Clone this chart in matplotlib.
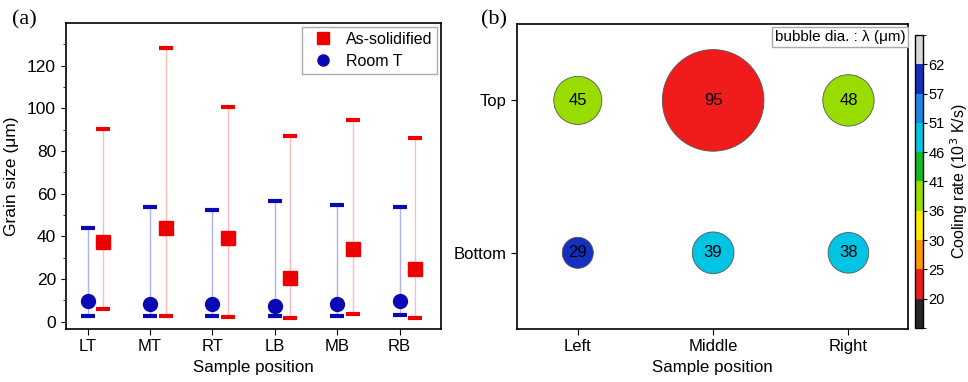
import matplotlib
matplotlib.use("Agg")
import matplotlib.pyplot as plt
from matplotlib.colors import ListedColormap, BoundaryNorm
from matplotlib.lines import Line2D
import numpy as np

plt.rcParams["font.family"] = ["Liberation Sans", "DejaVu Sans"]
plt.rcParams["font.size"] = 12

# ---- (a) grain size data ----
positions = ["LT", "MT", "RT", "LB", "MB", "RB"]
room_mean = [9.5, 8, 8, 7.5, 8, 9.5]
room_min = [2.5, 2.5, 2.5, 2.5, 2.5, 3]
room_max = [44, 53.5, 52.5, 56.5, 54.5, 53.5]
solid_mean = [37.5, 44, 39, 20.5, 34, 24.5]
solid_min = [6, 2.5, 2, 1.5, 3.5, 1.5]
solid_max = [90.5, 128.5, 100.5, 87, 94.5, 86]

# ---- (b) bubble data ----
cols = ["Left", "Middle", "Right"]
rows = ["Bottom", "Top"]
lam_top = [45, 95, 48]
lam_bottom = [29, 39, 38]
cool_top = [38, 22, 38]
cool_bottom = [60, 48, 48]
cb_bounds = [15, 20, 25, 30, 36, 41, 46, 51, 57, 62, 67]
cb_colors = ["#262626", "#f01c1c", "#ff9900", "#ffee00", "#99dd00",
             "#11bb22", "#00c4e4", "#1a88e8", "#1530c0", "#d8d8d8"]

RED, BLUE = "#ee0000", "#0a0ab4"

fig = plt.figure(figsize=(9.68, 3.82), dpi=100)

# ---------- panel (a) ----------
ax = fig.add_axes([0.068, 0.1387, 0.3874, 0.801])
x = np.arange(1, len(positions) + 1)
xs = x + 0.25
ax.vlines(x, room_min, room_max, color="#b0b0f2", lw=1)
ax.vlines(xs, solid_min, solid_max, color="#ffbcbc", lw=1)
ax.plot(x, room_min, ls="none", marker="_", ms=10, mew=3, color=BLUE)
ax.plot(x, room_max, ls="none", marker="_", ms=10, mew=3, color=BLUE)
ax.plot(xs, solid_min, ls="none", marker="_", ms=10, mew=3, color=RED)
ax.plot(xs, solid_max, ls="none", marker="_", ms=10, mew=3, color=RED)
ax.plot(x, room_mean, ls="none", marker="o", ms=10, color=BLUE, zorder=3)
ax.plot(xs, solid_mean, ls="none", marker="s", ms=10, color=RED, zorder=3)
ax.set_xlim(0.65, 6.66)
ax.set_ylim(-3.5, 140)
ax.set_xticks(x)
ax.set_xticklabels(positions)
ax.set_yticks([0, 20, 40, 60, 80, 100, 120])
ax.set_yticks(np.arange(10, 140, 20), minor=True)
ax.tick_params(direction="out", top=False, right=False, labelsize=12.5)
ax.tick_params(axis="x", length=4, labelsize=12)
ax.set_ylabel("Grain size (μm)", fontsize=12.5, labelpad=6)
ax.set_xlabel("Sample position", fontsize=12.2)
handles = [Line2D([], [], ls="none", marker="s", ms=8, color=RED),
           Line2D([], [], ls="none", marker="o", ms=8, color=BLUE)]
ax.legend(handles, ["As-solidified", "Room T"], loc="upper right",
          fancybox=False, edgecolor="#999999", fontsize=11.5,
          borderaxespad=0.25, handletextpad=0.4, labelspacing=0.45,
          borderpad=0.3)
for s in ax.spines.values():
    s.set_linewidth(1.2)
fig.text(0.012, 0.935, "(a)", family="Liberation Serif", fontsize=16)

# ---------- panel (b) ----------
bx = fig.add_axes([0.534, 0.1387, 0.404, 0.798])
cmap = ListedColormap(cb_colors)
norm = BoundaryNorm(cb_bounds, cmap.N)
bx_x = np.concatenate([np.arange(1, 4), np.arange(1, 4)])
bx_y = [1] * 3 + [0] * 3
lam = lam_top + lam_bottom
cool = cool_top + cool_bottom
sizes = (0.77 * np.array(lam)) ** 2
bx.scatter(bx_x, bx_y, s=sizes, c=cool, cmap=cmap, norm=norm,
           edgecolors="#555555", linewidths=0.6, zorder=3)
for xi, yi, v in zip(bx_x, bx_y, lam):
    bx.text(xi, yi, str(v), ha="center", va="center", fontsize=12, zorder=4)
bx.set_xlim(0.55, 3.44)
bx.set_ylim(-0.5, 1.5)
bx.set_xticks([1, 2, 3])
bx.set_xticklabels(cols)
bx.set_yticks([0, 1])
bx.set_yticklabels(rows)
bx.tick_params(direction="out", top=False, right=False, length=4, labelsize=12)
bx.set_xlabel("Sample position", fontsize=12.2)
for s in bx.spines.values():
    s.set_linewidth(1.2)
bx.text(0.993, 0.982, "bubble dia. : λ (μm)", transform=bx.transAxes,
        ha="right", va="top", fontsize=11,
        bbox=dict(boxstyle="square,pad=0.2", fc="white", ec="#aaaaaa"))
fig.text(0.497, 0.935, "(b)", family="Liberation Serif", fontsize=16)

# colorbar
cax = fig.add_axes([0.9452, 0.1414, 0.0083, 0.767])
sm = matplotlib.cm.ScalarMappable(cmap=cmap, norm=norm)
cb = fig.colorbar(sm, cax=cax, boundaries=cb_bounds, spacing="uniform",
                  ticks=cb_bounds[1:-1])
cb.ax.tick_params(labelsize=10.5, length=3, pad=1)
cb.outline.set_linewidth(1)
cb.set_label("Cooling rate (10$^3$ K/s)", fontsize=11.5)
cb.ax.yaxis.set_label_coords(4.1, 0.5)

fig.savefig("out.png", dpi=100)
